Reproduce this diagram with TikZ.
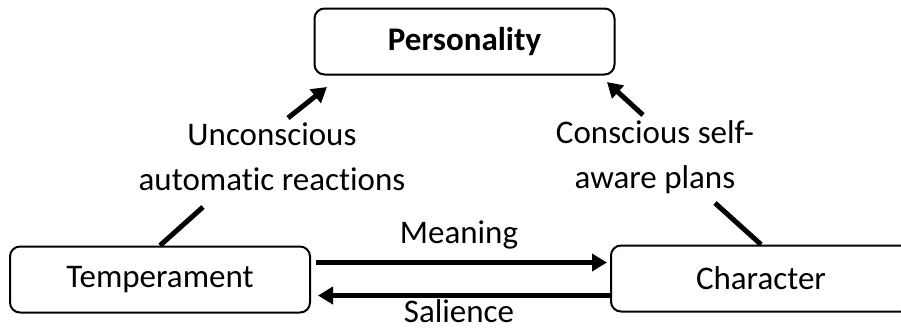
\documentclass[tikz,border=0pt]{standalone}
\usepackage{fontspec}
\setmainfont{Carlito}[Ligatures=NoCommon]
\usetikzlibrary{arrows.meta}
\begin{document}
\begin{tikzpicture}[x=0.5pt,y=-0.5pt,font=\fontsize{16.5}{22.5}\selectfont,
    box/.style={draw,line width=1pt,rounded corners=5pt,inner sep=0pt,
      minimum width=150pt,minimum height=33pt},
    link/.style={line width=2.5pt},
    arr/.style={line width=2.5pt,-{Triangle[length=7.5pt,width=8.5pt]}}]
  \clip (0,0) rectangle (901,329);
  \node[box,font=\bfseries\fontsize{16.5}{20}\selectfont] (per) at (464.5,41.5) {Personality};
  \node[box] (tmp) at (160,279.5) {Temperament};
  \node[box] (chr) at (761,278.5) {Character};
  \node[align=center] (unc) at (272,157) {Unconscious\\automatic reactions};
  \node[align=center] (con) at (655,157) {Conscious self-\\aware plans};
  \node[anchor=base] (mea) at (459,243) {Meaning};
  \node[anchor=base,inner sep=0pt] (sal) at (459,322) {Salience};
  \coordinate (u1) at (203,207);
  \coordinate (u2) at (288,118);
  \coordinate (u3) at (327,87);
  \coordinate (c1) at (715,203);
  \coordinate (c2) at (643,115);
  \coordinate (c3) at (607,82);
  \begin{scope}
    \draw[link] (tmp.north) -- (u1);
    \draw[arr] (u2) -- (u3);
    \draw[link] (chr.north) -- (c1);
    \draw[arr] (c2) -- (c3);
    \draw[arr,shorten <=2.5pt,shorten >=1.5pt] ([yshift=8.5pt]tmp.east) -- ([yshift=8pt]chr.west);
    \draw[arr,shorten >=3.5pt] ([yshift=-8.5pt]chr.west) -- ([yshift=-8pt]tmp.east);
  \end{scope}
\end{tikzpicture}
\end{document}
